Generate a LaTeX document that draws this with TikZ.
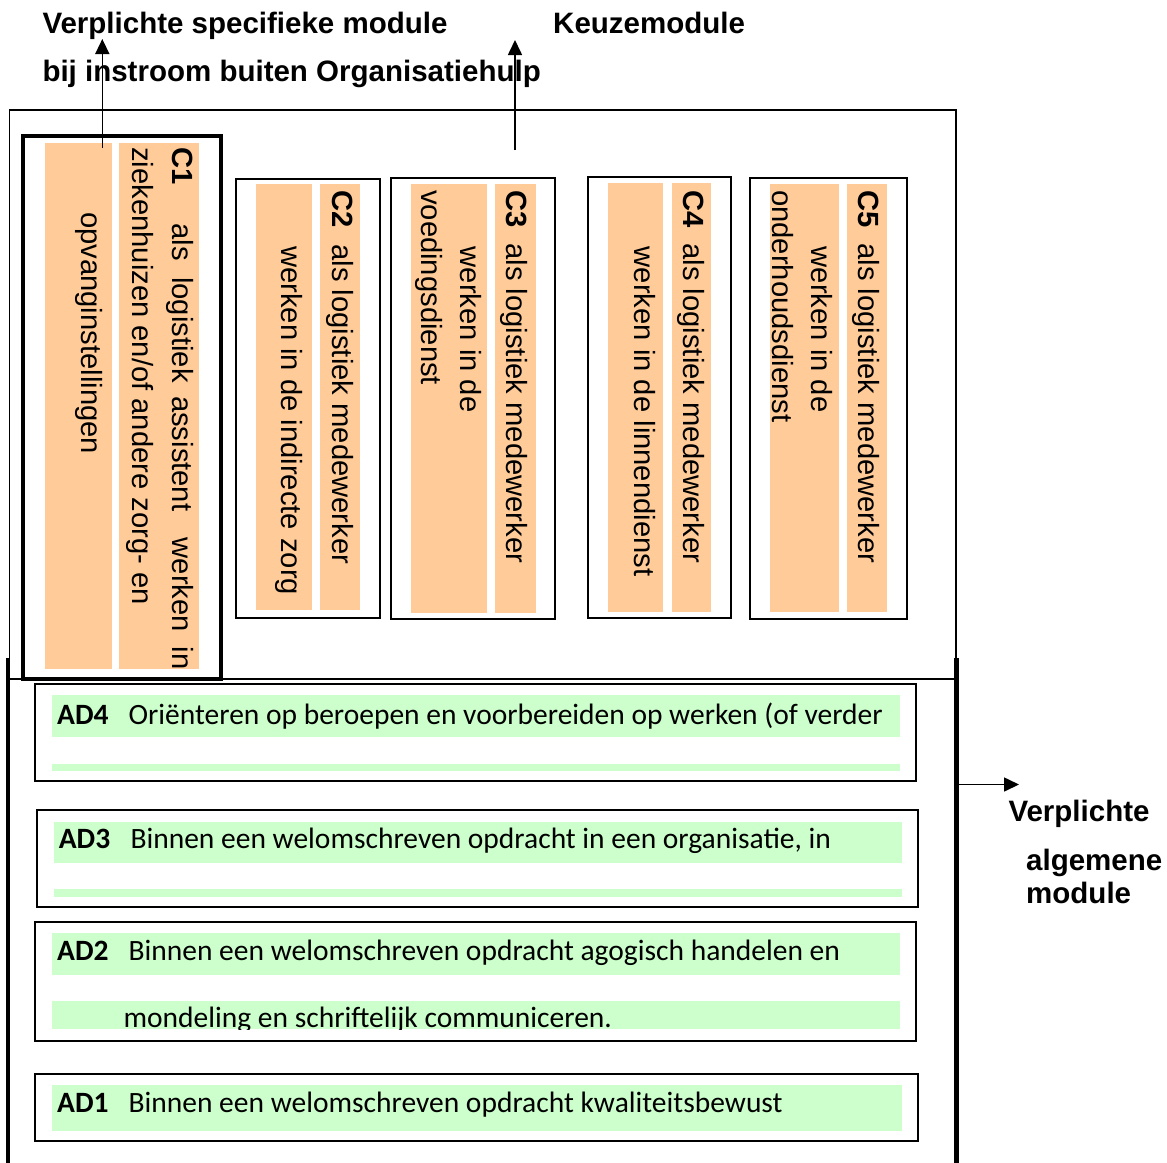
\documentclass[tikz,border=0pt]{standalone}
\usepackage{fontspec}
\setmainfont{Liberation Sans}
\newfontfamily\calfont{Carlito}
\usetikzlibrary{arrows.meta}
\definecolor{peach}{RGB}{255,204,153}
\definecolor{mint}{RGB}{204,255,204}
\begin{document}
\begin{tikzpicture}[x=1pt,y=-1pt,
  outerline/.style={draw=black,line width=1.6pt},
  heavyline/.style={draw=black,line width=4.5pt},
  c1frame/.style={draw=black,line width=4pt},
  cframe/.style={draw=black,line width=2pt},
  adframe/.style={draw=black,line width=2.2pt},
  peachbar/.style={fill=peach},
  mintbar/.style={fill=mint},
  vtext/.style={rotate=-90,anchor=base west,inner sep=0pt,font=\fontsize{29.2}{34}\selectfont},
  head/.style={anchor=base west,inner sep=0pt,font=\bfseries\fontsize{29.5}{34}\selectfont},
  adtext/.style={anchor=base west,inner sep=0pt,font=\calfont\fontsize{29.5}{34}\selectfont},
  adlabel/.style={anchor=base west,inner sep=0pt,font=\calfont\bfseries\fontsize{29.5}{34}\selectfont},
  pointer/.style={draw=black,line width=1.6pt,-{Triangle[length=15pt,width=14pt]}}
]
\useasboundingbox (0,0) rectangle (1167,1162);

% headers
\node[head] (h1) at (42.3,33.3) {Verplichte specifieke module};
\node[head] (h2) at (42.3,81.7) {bij instroom buiten Organisatiehulp};
\node[head] (h3) at (553,33.3) {Keuzemodule};

% outer frame
\draw[outerline] (9.5,110) rectangle (956,679);
\draw[heavyline] (8,658) -- (8,1165);
\draw[heavyline] (956.5,658) -- (956.5,1165);

% C1
\draw[c1frame] (23.3,135.6) rectangle (221,679);
\fill[peachbar] (45,143) rectangle (111.7,669);
\fill[peachbar] (119,143) rectangle (199,669);
\node[vtext] (c1a) at (172,147) {\textbf{C1}\hspace{38.9pt}als\hspace{16.5pt}logistiek\hspace{13.4pt}assistent\hspace{26.6pt}werken\hspace{14.9pt}in};
\node[vtext] (c1b) at (132,147) {ziekenhuizen en/of andere zorg- en};
\node[vtext] (c1c) at (81,212) {opvanginstellingen};

% C2
\draw[cframe] (236,178.6) rectangle (380,617.5);
\fill[peachbar] (256,184) rectangle (311.7,610);
\fill[peachbar] (320,184) rectangle (360,610);
\node[vtext] (c2a) at (332,190) {\textbf{C2}\hspace{17pt}als logistiek medewerker};
\node[vtext] (c2b) at (281,246) {werken in de indirecte zorg};

% C3
\draw[cframe] (391,178) rectangle (555,619);
\fill[peachbar] (411,184) rectangle (487,612.7);
\fill[peachbar] (495,184) rectangle (536,612.7);
\node[vtext] (c3a) at (506,190) {\textbf{C3}\hspace{16pt}als logistiek medewerker};
\node[vtext] (c3b) at (460.5,246.7) {werken in de};
\node[vtext] (c3c) at (421,190) {voedingsdienst};

% C4
\draw[cframe] (588,177) rectangle (731,618);
\fill[peachbar] (608,183) rectangle (663,611.7);
\fill[peachbar] (671.5,183) rectangle (711,611.7);
\node[vtext] (c4a) at (683,190) {\textbf{C4}\hspace{16pt}als logistiek medewerker};
\node[vtext] (c4b) at (634,246.7) {werken in de linnendienst};

% C5
\draw[cframe] (750,178) rectangle (907,619);
\fill[peachbar] (770,184) rectangle (839,612);
\fill[peachbar] (847,184) rectangle (886.5,612);
\node[vtext] (c5a) at (858,190) {\textbf{C5}\hspace{16pt}als logistiek medewerker};
\node[vtext] (c5b) at (811,246.7) {werken in de};
\node[vtext] (c5c) at (772,190) {onderhoudsdienst};

% AD4
\draw[adframe] (35.2,684.3) rectangle (916,781);
\fill[mintbar] (52,695) rectangle (900,736.7);
\fill[mintbar] (52,764) rectangle (900,771);
\node[adlabel] (ad4l) at (57,724) {AD4};
\node[adtext] (ad4t) at (128.4,724) {Oriënteren op beroepen en voorbereiden op werken (of verder};

% AD3
\draw[adframe] (37.2,810) rectangle (918,906.7);
\fill[mintbar] (54,821.5) rectangle (902,862.7);
\fill[mintbar] (54,889) rectangle (902,896.7);
\node[adlabel] (ad3l) at (58.6,848.3) {AD3};
\node[adtext] (ad3t) at (130.3,848.3) {Binnen een welomschreven opdracht in een organisatie, in};

% AD2
\draw[adframe] (35.2,922) rectangle (916,1040.7);
\fill[mintbar] (52,933.3) rectangle (900,974.7);
\fill[mintbar] (52,1001) rectangle (900,1029.3);
\node[adlabel] (ad2l) at (57,960) {AD2};
\node[adtext] (ad2t) at (128.4,960) {Binnen een welomschreven opdracht agogisch handelen en};
\begin{scope}
\clip (40,990) rectangle (910,1029.5);
\node[adtext] (ad2u) at (123.4,1027.5) {mondeling en schriftelijk communiceren.};
\end{scope}

% AD1
\draw[adframe] (35.2,1073.7) rectangle (918,1141);
\fill[mintbar] (52,1085) rectangle (902,1130.7);
\node[adlabel] (ad1l) at (57,1112.7) {AD1};
\node[adtext] (ad1t) at (128.4,1112.7) {Binnen een welomschreven opdracht kwaliteitsbewust};

% right label
\node[head] (r1) at (1008.3,821.7) {Verplichte};
\node[head] (r2) at (1026,870) {algemene};
\node[head] (r3) at (1026,903.3) {module};

% arrows
\coordinate (a1s) at (102.3,148);
\coordinate (a1e) at (102.3,39);
\coordinate (a2s) at (515,150);
\coordinate (a2e) at (515,40);
\coordinate (a3s) at (959,784.5);
\coordinate (a3e) at (1019,784.5);
\draw[pointer] (a1s) -- (a1e);
\draw[pointer] (a2s) -- (a2e);
\draw[pointer] (a3s) -- (a3e);
\end{tikzpicture}
\end{document}
